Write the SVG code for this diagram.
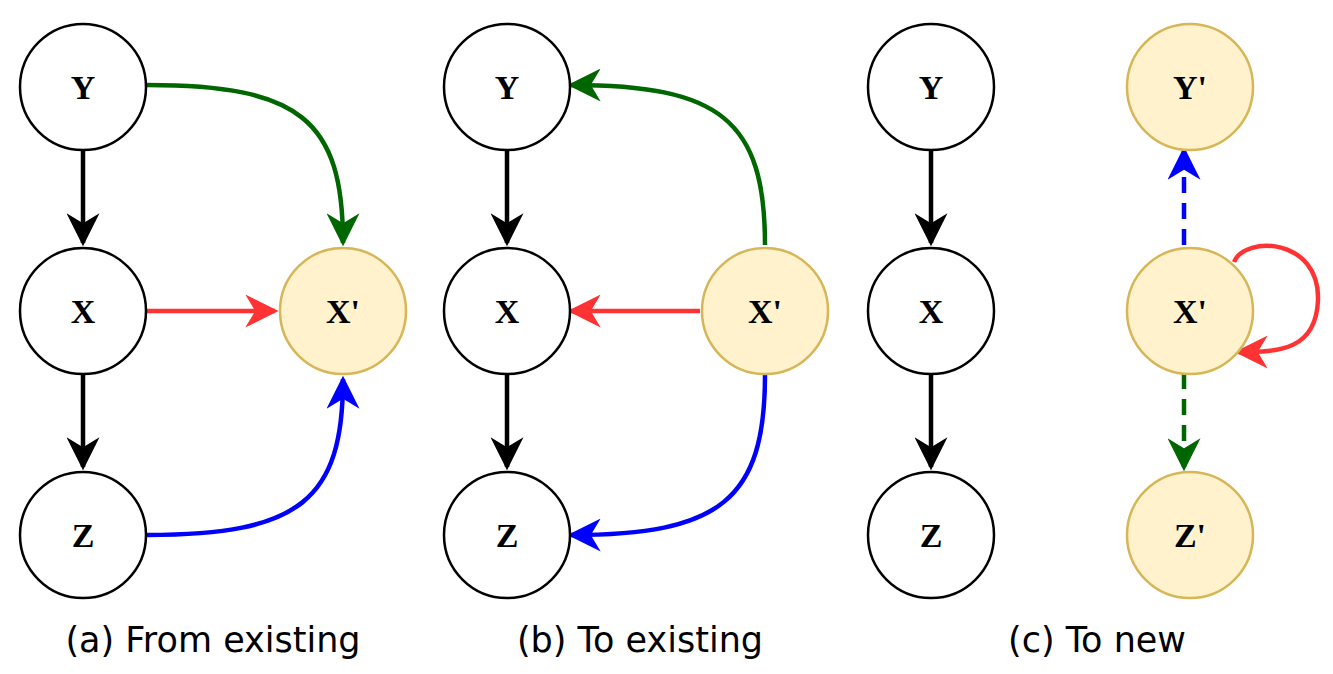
<svg xmlns="http://www.w3.org/2000/svg" width="1333" height="674" viewBox="0 0 1333 674">
<style>
.n circle{fill:#fff;stroke:#000;stroke-width:2.5}
.n.p circle{fill:#fff2cc;stroke:#d6b656}
.n text{font-family:"Liberation Serif",serif;font-weight:bold;font-size:34px;text-anchor:middle;dominant-baseline:central}
.c path{fill:none;stroke-width:4.5}
.cap{font-family:"DejaVu Sans",sans-serif;font-size:35px;text-anchor:middle}
</style>
<defs>
<marker id="k" viewBox="0 0 10 10" refX="9" refY="5" markerWidth="33" markerHeight="33" orient="auto" markerUnits="userSpaceOnUse"><path d="M0,0 L10,5 L0,10 L3,5 Z" fill="#000"/></marker>
<marker id="r" viewBox="0 0 10 10" refX="9" refY="5" markerWidth="33" markerHeight="33" orient="auto" markerUnits="userSpaceOnUse"><path d="M0,0 L10,5 L0,10 L3,5 Z" fill="#ff3333"/></marker>
<marker id="g" viewBox="0 0 10 10" refX="9" refY="5" markerWidth="33" markerHeight="33" orient="auto" markerUnits="userSpaceOnUse"><path d="M0,0 L10,5 L0,10 L3,5 Z" fill="#006600"/></marker>
<marker id="b" viewBox="0 0 10 10" refX="9" refY="5" markerWidth="33" markerHeight="33" orient="auto" markerUnits="userSpaceOnUse"><path d="M0,0 L10,5 L0,10 L3,5 Z" fill="#0000ff"/></marker>
</defs>
<g class="c" id="connectors">
<path d="M83,149 V243" stroke="#000" marker-end="url(#k)"/>
<path d="M83,373 V467" stroke="#000" marker-end="url(#k)"/>
<path d="M147,85 C300,85 343,120 343,243" stroke="#006600" marker-end="url(#g)"/>
<path d="M147,311 H275" stroke="#ff3333" marker-end="url(#r)"/>
<path d="M147,535 C300,535 343,500 343,379" stroke="#0000ff" marker-end="url(#b)"/>
<path d="M507,149 V243" stroke="#000" marker-end="url(#k)"/>
<path d="M507,373 V467" stroke="#000" marker-end="url(#k)"/>
<path d="M765,245 C765,120 720,85 571,85" stroke="#006600" marker-end="url(#g)"/>
<path d="M700,311 H571" stroke="#ff3333" marker-end="url(#r)"/>
<path d="M765,375 C765,500 720,535 571,535" stroke="#0000ff" marker-end="url(#b)"/>
<path d="M931,149 V243" stroke="#000" marker-end="url(#k)"/>
<path d="M931,373 V467" stroke="#000" marker-end="url(#k)"/>
<path d="M1184,245 V150" stroke="#0000ff" stroke-dasharray="16,10" marker-end="url(#b)"/>
<path d="M1184,373 V468" stroke="#006600" stroke-dasharray="16,10" marker-end="url(#g)"/>
<path d="M1234,262 C1245,235 1320,238 1318,300 C1316,350 1280,352 1238,352" stroke="#ff3333" marker-end="url(#r)"/>
</g>
<g class="n" id="aY"><circle cx="83" cy="87" r="63"/><text x="83" y="87">Y</text></g>
<g class="n" id="aX"><circle cx="83" cy="311" r="63"/><text x="83" y="311">X</text></g>
<g class="n" id="aZ"><circle cx="83" cy="535" r="63"/><text x="83" y="535">Z</text></g>
<g class="n p" id="aXp"><circle cx="343" cy="311" r="63"/><text x="343" y="311">X'</text></g>
<g class="n" id="bY"><circle cx="507" cy="87" r="63"/><text x="507" y="87">Y</text></g>
<g class="n" id="bX"><circle cx="507" cy="311" r="63"/><text x="507" y="311">X</text></g>
<g class="n" id="bZ"><circle cx="507" cy="535" r="63"/><text x="507" y="535">Z</text></g>
<g class="n p" id="bXp"><circle cx="765" cy="311" r="63"/><text x="765" y="311">X'</text></g>
<g class="n" id="cY"><circle cx="931" cy="87" r="63"/><text x="931" y="87">Y</text></g>
<g class="n" id="cX"><circle cx="931" cy="311" r="63"/><text x="931" y="311">X</text></g>
<g class="n" id="cZ"><circle cx="931" cy="535" r="63"/><text x="931" y="535">Z</text></g>
<g class="n p" id="cYp"><circle cx="1190" cy="87" r="63"/><text x="1190" y="87">Y'</text></g>
<g class="n p" id="cXp"><circle cx="1190" cy="311" r="63"/><text x="1190" y="311">X'</text></g>
<g class="n p" id="cZp"><circle cx="1190" cy="535" r="63"/><text x="1190" y="535">Z'</text></g>
<text class="cap" x="213" y="652">(a) From existing</text>
<text class="cap" x="640" y="652">(b) To existing</text>
<text class="cap" x="1097" y="652">(c) To new</text>
</svg>
